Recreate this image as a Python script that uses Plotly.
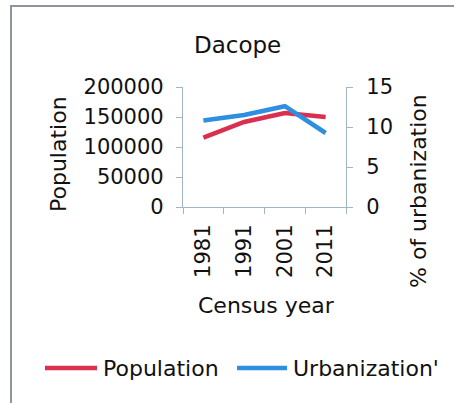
import plotly.graph_objects as go

# Census data for Dacope upazila
census_years = ["1981", "1991", "2001", "2011"]
population = [115700, 141700, 156700, 150000]
urbanization_pct = [10.8, 11.5, 12.6, 9.25]

pop_ticks = [0, 50000, 100000, 150000, 200000]
urb_ticks = [0, 5, 10, 15]

W, H = 454, 403
ML, MR, MT, MB = 183, 108, 87, 196
PW, PH = W - ML - MR, H - MT - MB

RED = "#d9304f"
BLUE = "#2e8fe0"
AXIS = "#a3b4c6"
FONT = "DejaVu Sans"
TXT = "#111111"


def px(x):
    return (x - ML) / PW


def py(y):
    return (H - MB - y) / PH


fig = go.Figure()
fig.add_trace(go.Scatter(x=census_years, y=population, name="Population",
                         mode="lines", line=dict(color=RED, width=4.5),
                         yaxis="y"))
fig.add_trace(go.Scatter(x=census_years, y=urbanization_pct, name="Urbanization'",
                         mode="lines", line=dict(color=BLUE, width=4.5),
                         yaxis="y2"))

axis_common = dict(showgrid=False, zeroline=False, showline=True,
                   linecolor=AXIS, linewidth=1.2, ticks="outside",
                   ticklen=6, tickcolor=AXIS, tickwidth=1.2,
                   tickfont=dict(family=FONT, size=21, color=TXT))

fig.update_layout(
    width=W, height=H,
    margin=dict(l=ML, r=MR, t=MT, b=MB),
    paper_bgcolor="white", plot_bgcolor="white",
    showlegend=False,
    xaxis=dict(type="category", tickson="boundaries", tickangle=-90,
               range=[-0.5, 3.5], ticklabelstandoff=8, **axis_common),
    yaxis=dict(range=[0, 200000], tickvals=pop_ticks,
               ticktext=[str(v) for v in pop_ticks],
               ticklabelstandoff=8, **axis_common),
    yaxis2=dict(range=[0, 15], tickvals=urb_ticks, overlaying="y",
                side="right", ticklabelstandoff=9, **axis_common),
)

annotations = [
    dict(text="Dacope", x=px(237), y=py(45), size=23, angle=0),
    dict(text="Population", x=px(58), y=py(154), size=22, angle=-90),
    dict(text="% of urbanization", x=px(418), y=py(191), size=22, angle=-90),
    dict(text="Census year", x=px(266), y=py(305), size=22, angle=0),
]
for a in annotations:
    fig.add_annotation(text=a["text"], x=a["x"], y=a["y"], xref="paper",
                       yref="paper", showarrow=False, textangle=a["angle"],
                       xanchor="center", yanchor="middle",
                       font=dict(family=FONT, size=a["size"], color=TXT))

# Legend drawn as line samples with labels
legend_y = 368
legend_items = [(RED, 45, 97, "Population", 101),
                (BLUE, 237, 287, "Urbanization'", 291)]
for color, x0, x1, label, tx in legend_items:
    fig.add_shape(type="line", xref="paper", yref="paper",
                  x0=px(x0), x1=px(x1), y0=py(legend_y), y1=py(legend_y),
                  line=dict(color=color, width=4.5))
    fig.add_annotation(text=label, x=px(tx), y=py(legend_y), xref="paper",
                       yref="paper", showarrow=False, xanchor="left",
                       yanchor="middle",
                       font=dict(family=FONT, size=22, color=TXT))

# Chart frame
fig.add_shape(type="rect", xref="paper", yref="paper",
              x0=px(11), x1=px(470), y0=py(6), y1=py(420),
              line=dict(color="#8e959c", width=2), layer="below")

fig.write_html("out.html")
